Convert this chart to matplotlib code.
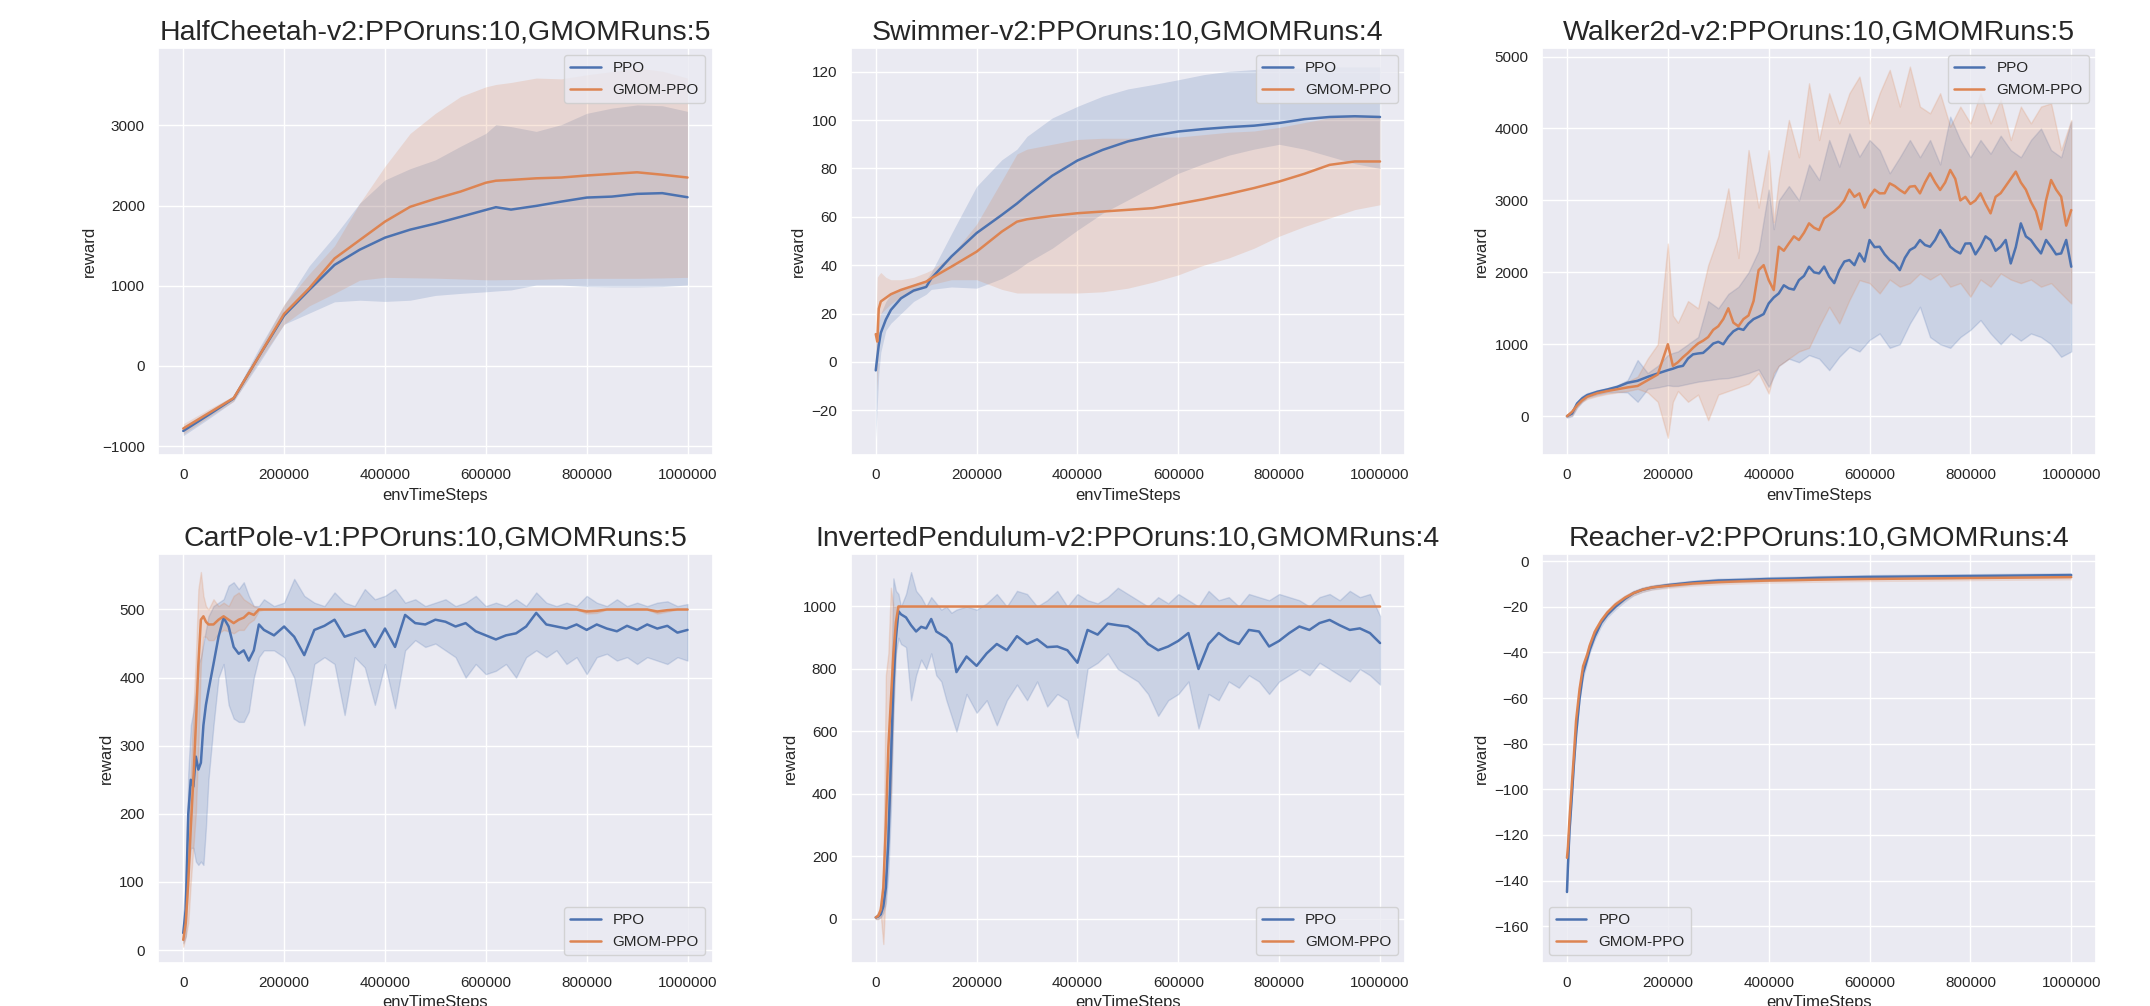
import numpy as np
import matplotlib
matplotlib.use('Agg')
import matplotlib.pyplot as plt
import seaborn as sns

sns.set_theme(style='darkgrid')
plt.rcParams['font.family'] = ['Liberation Sans', 'DejaVu Sans']
plt.rcParams['xtick.labelsize'] = 11
plt.rcParams['ytick.labelsize'] = 11
plt.rcParams['axes.labelsize'] = 12
plt.rcParams['legend.fontsize'] = 11

PPO_COLOR = '#4C72B0'
GMOM_COLOR = '#DD8452'

x_ticks = [0, 200000, 400000, 600000, 800000, 1000000]
x_tick_labels = ['0', '200000', '400000', '600000', '800000', '1000000']

# ---- HalfCheetah (steps in thousands) ----
hc_x = [0, 50, 100, 150, 200, 250, 300, 350, 400, 450, 500, 550, 600, 620, 650, 700, 750, 800, 850, 900, 950, 1000]
hc_ppo = [-810, -610, -405, 120, 630, 950, 1260, 1450, 1600, 1700, 1775, 1860, 1946, 1980, 1950, 1996, 2050, 2100, 2112, 2146, 2155, 2104]
hc_ppo_lo = [-870, -660, -440, 30, 520, 660, 800, 820, 805, 820, 880, 905, 925, 935, 948, 1010, 1010, 990, 985, 985, 990, 1010]
hc_ppo_hi = [-750, -560, -370, 220, 760, 1250, 1620, 2030, 2320, 2460, 2570, 2740, 2900, 3010, 2985, 2925, 3010, 3150, 3215, 3255, 3245, 3175]
hc_gm = [-780, -590, -400, 120, 650, 970, 1340, 1570, 1800, 1985, 2085, 2175, 2285, 2310, 2320, 2340, 2350, 2375, 2395, 2415, 2385, 2350]
hc_gm_lo = [-850, -640, -440, 60, 520, 750, 905, 1070, 1105, 1100, 1095, 1085, 1075, 1075, 1078, 1080, 1088, 1093, 1093, 1093, 1098, 1105]
hc_gm_hi = [-720, -540, -370, 190, 770, 1150, 1500, 2030, 2490, 2900, 3150, 3360, 3480, 3510, 3535, 3590, 3580, 3630, 3670, 3715, 3675, 3590]

# ---- Swimmer ----
sw_x = [0, 3, 6, 10, 20, 30, 50, 75, 100, 110, 150, 200, 250, 280, 300, 350, 400, 450, 500, 550, 600, 650, 700, 750, 800, 850, 900, 950, 1000]
sw_ppo = [-3.5, 2, 7, 12, 17.5, 21.5, 26.3, 29.5, 31, 34.5, 43.6, 53.3, 60.8, 65.5, 69, 77, 83.3, 87.7, 91.2, 93.5, 95.3, 96.3, 97.1, 97.7, 98.8, 100.4, 101.3, 101.6, 101.3]
sw_ppo_lo = [-32, -18, -5, 4, 13, 16, 20, 25, 28, 30, 31, 30.5, 34.5, 38, 41, 47, 54.5, 61.5, 67, 72.5, 78, 82, 85.5, 88, 90, 88, 85, 82, 80]
sw_ppo_hi = [8, 12, 16, 20, 25, 28, 30, 32, 34, 37, 53, 72.6, 83.6, 88, 93.3, 100.9, 105.7, 109.9, 112.9, 114.7, 116.7, 118.8, 120.2, 120.9, 121.5, 121.5, 122, 122, 122]
sw_gm = [11.5, 8.4, 22, 25, 26.5, 28, 29.8, 31.5, 33.2, 34.6, 39.4, 45.6, 53.9, 58, 59, 60.4, 61.5, 62.2, 62.9, 63.6, 65.4, 67.3, 69.5, 71.9, 74.6, 77.8, 81.5, 82.9, 82.9]
sw_gm_lo = [5, -12, 15, 20, 22, 24, 27, 29, 31, 32, 34, 34, 30, 28.5, 28.5, 28.5, 28.5, 29, 30.5, 33, 36, 40, 43, 47, 52, 56, 59.5, 63, 65]
sw_gm_hi = [15, 35, 36, 37, 35, 34, 34, 35, 37, 38, 44, 57, 75, 86, 88, 90, 92, 92.5, 92.5, 93, 93, 94, 95, 95.5, 97, 99, 101, 102, 102]

# ---- Walker2d ----
# mean curves are sampled every 10k steps after 200k, bands every 20k
wk_mean_x = [0, 10, 20, 30, 40, 60, 80, 100, 120, 140, 160, 180, 200] + list(range(210, 1010, 10))
wk_ppo = [0, 37, 176, 246, 292, 339, 371, 408, 464, 492, 547, 594, 640,
          660, 686, 700, 802, 860, 872, 880, 942, 1010, 1034, 1000, 1104, 1180, 1220, 1200, 1289, 1350, 1382,
          1420, 1568, 1650, 1707, 1820, 1776, 1760, 1892, 1950, 2078, 2000, 1985, 2080, 1939, 1850, 2031, 2150, 2171,
          2100, 2263, 2150, 2449, 2350, 2356, 2250, 2171, 2120, 2031, 2200, 2310, 2350, 2449, 2380, 2356, 2450, 2588,
          2480, 2356, 2300, 2263, 2400, 2403, 2250, 2356, 2500, 2449, 2300, 2356, 2450, 2124, 2350, 2681, 2500, 2449,
          2350, 2263, 2450, 2356, 2250, 2263, 2450, 2078]
wk_gm = [0, 60, 150, 220, 270, 320, 350, 375, 400, 420, 500, 580, 1000,
         700, 750, 820, 880, 950, 1011, 1050, 1100, 1200, 1250, 1350, 1500, 1300, 1250, 1350, 1400, 1600, 2031,
         2100, 1892, 1753, 2356, 2300, 2402, 2500, 2449, 2550, 2681, 2620, 2588, 2750, 2800, 2850, 2913, 3000, 3150,
         3050, 3098, 2900, 3052, 3150, 3098, 3100, 3237, 3200, 3145, 3100, 3191, 3200, 3098, 3250, 3377, 3250, 3145,
         3250, 3423, 3300, 3000, 3050, 2950, 3000, 3098, 2950, 2820, 3050, 3100, 3200, 3300, 3400, 3250, 3150, 2980,
         2850, 2600, 3000, 3284, 3150, 3052, 2650, 2866]
wk_x = [0, 10, 20, 30, 40, 60, 80, 100, 120, 140, 160, 180, 200, 210, 220, 240, 260, 280, 300, 320,
        340, 360, 380, 400, 410, 420, 440, 460, 480, 500, 520, 540, 560, 580, 600, 620, 640, 660, 680, 700,
        720, 740, 760, 780, 800, 820, 840, 860, 880, 900, 920, 940, 960, 980, 1000]
wk_ppo_lo = [-20, 0, 120, 200, 260, 300, 330, 340, 330, 200, 380, 400, 430, 420, 420, 450, 480, 500, 520, 530,
             560, 600, 650, 408, 550, 700, 800, 750, 850, 800, 640, 826, 965, 900, 1060, 1150, 950, 1000, 1289, 1521,
             1100, 1000, 950, 1100, 1200, 1336, 1150, 1000, 1150, 1050, 1150, 1100, 1000, 826, 900]
wk_ppo_hi = [10, 60, 200, 280, 320, 360, 390, 430, 500, 780, 600, 700, 850, 880, 900, 1000, 1100, 1600, 1500, 1700,
             1800, 2000, 2300, 3150, 2600, 3000, 3200, 3000, 3500, 3284, 3840, 3469, 3933, 3609, 3840, 3700, 3377, 3600, 3840, 3600,
             3840, 3500, 4165, 3840, 3600, 3840, 3650, 3900, 3700, 3600, 3840, 4000, 3700, 3600, 4100]
wk_gm_lo = [-10, 10, 130, 200, 240, 280, 310, 330, 350, 380, 330, 200, -300, 200, 350, 200, 300, -56, 300, 350,
            400, 450, 600, 315, 600, 700, 800, 900, 950, 1250, 1521, 1289, 1614, 1892, 1850, 1707, 1900, 1800, 1850, 1985,
            1900, 1985, 1800, 1850, 1661, 1900, 1800, 1985, 1900, 1850, 1900, 1800, 1850, 1707, 1568]
wk_gm_hi = [10, 60, 170, 240, 300, 340, 360, 420, 480, 550, 800, 1000, 2400, 1400, 1300, 1600, 1500, 2100, 2500, 3168,
            2200, 3700, 2900, 3700, 2700, 3300, 4119, 3600, 4629, 3840, 4490, 4072, 4490, 4722, 4072, 4490, 4815, 4305, 4861, 4305,
            4211, 4490, 4026, 4305, 4072, 4490, 4072, 4400, 3840, 4305, 4072, 4305, 4350, 3701, 4119]

# ---- CartPole ----
cp_x = [0, 5, 10, 15, 20, 25, 30, 35, 40, 45, 50, 60, 70, 80, 90, 100, 110, 120, 130, 140, 150, 160,
        180, 200, 220, 240, 260, 280, 300, 320, 340, 360, 380, 400, 420, 440, 460, 480, 500, 520, 540, 560,
        580, 600, 620, 640, 660, 680, 700, 720, 740, 760, 780, 800, 820, 840, 860, 880, 900, 920, 940, 960, 980, 1000]
cp_ppo = [25, 60, 200, 250, 240, 284, 265, 275, 330, 360, 381, 420, 460, 488, 475, 445, 435, 440, 425, 440, 478, 470,
          462, 475, 460, 433, 470, 476, 485, 460, 465, 470, 445, 472, 445, 492, 480, 478, 485, 482, 475, 480,
          468, 462, 456, 462, 465, 475, 495, 478, 475, 472, 478, 470, 478, 472, 468, 476, 470, 478, 472, 476, 466, 470]
cp_ppo_lo = [10, 20, 120, 150, 150, 130, 125, 130, 125, 180, 250, 330, 400, 420, 360, 340, 335, 335, 350, 400, 430, 440,
             440, 430, 400, 330, 420, 430, 420, 345, 430, 415, 360, 420, 355, 440, 455, 445, 450, 440, 430, 400,
             420, 405, 410, 420, 400, 430, 440, 430, 440, 420, 430, 405, 430, 435, 425, 430, 420, 430, 425, 420, 430, 425]
cp_ppo_hi = [55, 100, 260, 330, 350, 380, 420, 430, 450, 470, 490, 505, 510, 515, 535, 540, 530, 540, 520, 505, 505, 515,
             505, 510, 545, 520, 510, 505, 525, 510, 505, 530, 515, 520, 530, 510, 515, 505, 510, 515, 505, 510,
             520, 505, 510, 505, 515, 505, 525, 510, 505, 510, 505, 520, 510, 505, 515, 505, 510, 505, 510, 512, 505, 508]
cp_gm = [15, 40, 100, 180, 250, 330, 420, 485, 490, 482, 478, 478, 485, 490, 485, 480, 485, 488, 495, 492, 500, 500,
         500, 500, 500, 500, 500, 500, 500, 500, 500, 500, 500, 500, 500, 500, 500, 500, 500, 500, 500, 500,
         500, 500, 500, 500, 500, 500, 500, 500, 500, 500, 500, 497, 498, 500, 500, 500, 500, 500, 497, 499, 500, 500]
cp_gm_lo = [5, 20, 40, 100, 150, 200, 300, 420, 460, 460, 455, 455, 465, 470, 468, 465, 470, 470, 480, 485, 498, 500,
            500, 500, 500, 500, 500, 500, 500, 500, 500, 500, 500, 500, 500, 500, 500, 500, 500, 500, 500, 500,
            500, 500, 500, 500, 500, 500, 500, 500, 500, 500, 500, 494, 495, 500, 500, 500, 500, 500, 494, 497, 500, 500]
cp_gm_hi = [30, 70, 160, 260, 350, 430, 530, 555, 520, 505, 500, 515, 505, 510, 505, 520, 525, 515, 510, 505, 502, 500,
            500, 500, 500, 500, 500, 500, 500, 500, 500, 500, 500, 500, 500, 500, 500, 500, 500, 500, 500, 500,
            500, 500, 500, 500, 500, 500, 500, 500, 500, 500, 500, 500, 500, 500, 500, 500, 500, 500, 500, 500, 500, 500]

# ---- InvertedPendulum ----
ip_x = cp_x
ip_ppo = [5, 8, 15, 40, 100, 250, 500, 750, 900, 985, 975, 965, 940, 920, 935, 930, 960, 920, 910, 900, 880, 790,
          840, 810, 850, 880, 860, 905, 880, 895, 870, 872, 860, 820, 925, 910, 945, 940, 936, 915, 880, 860,
          872, 890, 915, 800, 880, 915, 893, 880, 925, 920, 872, 890, 915, 936, 925, 947, 957, 940, 925, 930, 915, 883]
ip_ppo_lo = [0, 0, 5, 20, 50, 150, 350, 650, 850, 900, 880, 870, 700, 780, 830, 800, 850, 780, 760, 700, 650, 600,
             720, 660, 700, 620, 700, 750, 700, 760, 680, 720, 700, 580, 800, 820, 850, 800, 780, 760, 720, 650,
             700, 720, 760, 610, 720, 700, 760, 740, 780, 760, 720, 760, 780, 800, 780, 820, 800, 780, 760, 800, 780, 750]
ip_ppo_hi = [10, 20, 30, 70, 180, 400, 700, 1090, 1050, 1040, 1000, 1040, 1110, 1050, 1030, 1000, 1030, 1010, 990, 1000, 980, 990,
             1000, 990, 1010, 1040, 1000, 1050, 1040, 1000, 1020, 1050, 1000, 1040, 1020, 1010, 1030, 1060, 1040, 1020, 1000, 1030,
             1010, 1040, 1020, 1000, 1050, 1020, 1030, 1000, 1040, 1030, 1020, 1040, 1030, 1020, 1000, 1030, 1040, 1020, 1050, 1030, 1040, 970]
ip_gm = [5, 10, 30, 100, 300, 550, 700, 850, 950, 1000, 1000, 1000, 1000, 1000, 1000, 1000, 1000, 1000, 1000, 1000, 1000, 1000,
         1000, 1000, 1000, 1000, 1000, 1000, 1000, 1000, 1000, 1000, 1000, 1000, 1000, 1000, 1000, 1000, 1000, 1000, 1000, 1000,
         1000, 1000, 1000, 1000, 1000, 1000, 1000, 1000, 1000, 1000, 1000, 1000, 1000, 1000, 1000, 1000, 1000, 1000, 1000, 1000, 1000, 1000]
ip_gm_lo = [0, 0, 10, -80, 100, 300, 400, 700, 900, 995, 1000, 1000, 1000, 1000, 1000, 1000, 1000, 1000, 1000, 1000, 1000, 1000,
            1000, 1000, 1000, 1000, 1000, 1000, 1000, 1000, 1000, 1000, 1000, 1000, 1000, 1000, 1000, 1000, 1000, 1000, 1000, 1000,
            1000, 1000, 1000, 1000, 1000, 1000, 1000, 1000, 1000, 1000, 1000, 1000, 1000, 1000, 1000, 1000, 1000, 1000, 1000, 1000, 1000, 1000]
ip_gm_hi = [10, 20, 50, 150, 780, 850, 1060, 1000, 1000, 1005, 1000, 1000, 1000, 1000, 1000, 1000, 1000, 1000, 1000, 1000, 1000, 1000,
            1000, 1000, 1000, 1000, 1000, 1000, 1000, 1000, 1000, 1000, 1000, 1000, 1000, 1000, 1000, 1000, 1000, 1000, 1000, 1000,
            1000, 1000, 1000, 1000, 1000, 1000, 1000, 1000, 1000, 1000, 1000, 1000, 1000, 1000, 1000, 1000, 1000, 1000, 1000, 1000, 1000, 1000]

# ---- Reacher ----
rc_x = [0, 2, 5, 9, 14, 18, 25, 32, 40, 45, 55, 68, 80, 96, 115, 132, 150, 169, 200, 250, 300, 350, 400, 450, 500,
        550, 600, 650, 700, 750, 800, 850, 900, 950, 1000]
rc_ppo = [-145, -133, -118, -105, -88, -76, -60, -49, -43, -39, -33, -27, -23.5, -20, -16.5, -14, -12.5, -11.5, -10.5, -9.3,
          -8.5, -8.2, -7.8, -7.6, -7.3, -7.1, -6.9, -6.8, -6.7, -6.6, -6.5, -6.4, -6.3, -6.2, -6.1]
rc_ppo_lo = [-152, -140, -124, -110, -92, -80, -63, -52, -45.5, -41, -35, -29, -25, -21.5, -18, -15.3, -13.7, -12.6, -11.6, -10.4,
             -9.6, -9.3, -8.9, -8.7, -8.4, -8.2, -8.0, -7.9, -7.8, -7.7, -7.6, -7.5, -7.4, -7.3, -7.2]
rc_ppo_hi = [-135, -125, -111, -99, -83, -72, -57, -46, -40.5, -37, -31, -25, -22, -18.5, -15, -12.7, -11.3, -10.4, -9.4, -8.2,
             -7.4, -7.1, -6.7, -6.5, -6.2, -6.0, -5.8, -5.7, -5.6, -5.5, -5.4, -5.3, -5.2, -5.1, -5.0]
rc_gm = [-130, -125, -113, -100, -84, -70, -56, -46, -41, -37, -31, -26, -22.5, -19, -16, -14, -12.5, -11.5, -10.8, -9.8,
         -9.2, -8.8, -8.5, -8.3, -8.1, -7.9, -7.8, -7.7, -7.6, -7.5, -7.4, -7.3, -7.2, -7.1, -7.0]
rc_gm_lo = [-138, -132, -119, -105, -88, -74, -59, -48.5, -43, -39, -33, -27.5, -24, -20.5, -17.3, -15.2, -13.7, -12.7, -12, -11,
            -10.4, -10, -9.7, -9.5, -9.3, -9.1, -9, -8.9, -8.8, -8.7, -8.6, -8.5, -8.4, -8.3, -8.2]
rc_gm_hi = [-120, -117, -106, -94, -79, -66, -53, -43.5, -38.5, -35, -29, -24.5, -21, -17.5, -14.7, -12.8, -11.3, -10.3, -9.6, -8.6,
            -8.0, -7.6, -7.3, -7.1, -6.9, -6.7, -6.6, -6.5, -6.4, -6.3, -6.2, -6.1, -6.0, -5.9, -5.8]

titles = ['HalfCheetah-v2:PPOruns:10,GMOMRuns:5', 'Swimmer-v2:PPOruns:10,GMOMRuns:4',
          'Walker2d-v2:PPOruns:10,GMOMRuns:5', 'CartPole-v1:PPOruns:10,GMOMRuns:5',
          'InvertedPendulum-v2:PPOruns:10,GMOMRuns:4', 'Reacher-v2:PPOruns:10,GMOMRuns:4']


def draw_panel(ax, x, ppo, ppo_lo, ppo_hi, gm, gm_lo, gm_hi, title, ylim, yticks, loc, edge, band_x=None):
    xs = np.array(x) * 1000
    bxs = xs if band_x is None else np.array(band_x) * 1000
    ax.fill_between(bxs, ppo_lo, ppo_hi, color=PPO_COLOR, alpha=0.2, linewidth=edge)
    ax.plot(xs, ppo, color=PPO_COLOR, lw=1.8, label='PPO')
    ax.fill_between(bxs, gm_lo, gm_hi, color=GMOM_COLOR, alpha=0.2, linewidth=edge)
    ax.plot(xs, gm, color=GMOM_COLOR, lw=1.8, label='GMOM-PPO')
    ax.set_xlim(-50000, 1050000)
    ax.set_ylim(*ylim)
    ax.set_xticks(x_ticks)
    ax.set_xticklabels(x_tick_labels)
    ax.set_yticks(yticks)
    ax.set_xlabel('envTimeSteps')
    ax.set_ylabel('reward')
    ax.set_title(title, fontsize=20.5)
    ax.legend(loc=loc)


fig = plt.figure(figsize=(21.5, 10.06), dpi=100)
lefts = [0.0735, 0.3956, 0.7171]
w = 0.258
axs = [fig.add_axes([lefts[0], 0.5477, w, 0.405]),
       fig.add_axes([lefts[1], 0.5477, w, 0.405]),
       fig.add_axes([lefts[2], 0.5477, w, 0.405]),
       fig.add_axes([lefts[0], 0.043, w, 0.406]),
       fig.add_axes([lefts[1], 0.043, w, 0.406]),
       fig.add_axes([lefts[2], 0.043, w, 0.406])]

draw_panel(axs[0], hc_x, hc_ppo, hc_ppo_lo, hc_ppo_hi, hc_gm, hc_gm_lo, hc_gm_hi, titles[0],
           (-1110, 3970), [-1000, 0, 1000, 2000, 3000], 'upper right', 0)
draw_panel(axs[1], sw_x, sw_ppo, sw_ppo_lo, sw_ppo_hi, sw_gm, sw_gm_lo, sw_gm_hi, titles[1],
           (-38.5, 130), [-20, 0, 20, 40, 60, 80, 100, 120], 'upper right', 0)
draw_panel(axs[2], wk_mean_x, wk_ppo, wk_ppo_lo, wk_ppo_hi, wk_gm, wk_gm_lo, wk_gm_hi, titles[2],
           (-540, 5125), [0, 1000, 2000, 3000, 4000, 5000], 'upper right', 1, band_x=wk_x)
draw_panel(axs[3], cp_x, cp_ppo, cp_ppo_lo, cp_ppo_hi, cp_gm, cp_gm_lo, cp_gm_hi, titles[3],
           (-18.6, 581), [0, 100, 200, 300, 400, 500], 'lower right', 1)
draw_panel(axs[4], ip_x, ip_ppo, ip_ppo_lo, ip_ppo_hi, ip_gm, ip_gm_lo, ip_gm_hi, titles[4],
           (-140, 1167), [0, 200, 400, 600, 800, 1000], 'lower right', 1)
draw_panel(axs[5], rc_x, rc_ppo, rc_ppo_lo, rc_ppo_hi, rc_gm, rc_gm_lo, rc_gm_hi, titles[5],
           (-176, 3), [-160, -140, -120, -100, -80, -60, -40, -20, 0], 'lower left', 0)

fig.savefig('out.png', dpi=100)
